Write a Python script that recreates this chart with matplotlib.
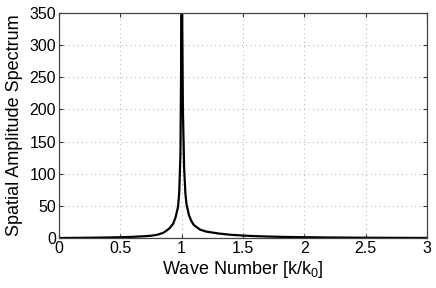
import matplotlib
matplotlib.use("Agg")
import matplotlib.pyplot as plt

plt.rcParams['font.family'] = ['Liberation Sans', 'DejaVu Sans']
plt.rcParams['mathtext.fontset'] = 'custom'
plt.rcParams['mathtext.rm'] = 'Liberation Sans'
plt.rcParams['mathtext.it'] = 'Liberation Sans'

# Wave number (k/k0) and spatial amplitude spectrum
wave_number = [0.0, 0.2, 0.4, 0.5, 0.6, 0.7, 0.75, 0.8, 0.85, 0.88, 0.9, 0.93,
               0.95, 0.97, 0.98, 0.99, 0.995, 1.0, 1.005, 1.01, 1.02, 1.03,
               1.04, 1.06, 1.08, 1.1, 1.15, 1.2, 1.3, 1.4, 1.5, 1.6, 1.7, 1.8,
               2.0, 2.2, 2.5, 2.8, 3.0]
amplitude = [0.0, 0.3, 0.8, 1.2, 1.8, 2.8, 3.5, 5.0, 8.0, 12.0, 15.0, 22.0,
             32.0, 48.0, 70.0, 130.0, 250.0, 600.0, 330.0, 200.0, 110.0, 70.0,
             52.0, 35.0, 26.0, 20.0, 13.0, 10.0, 7.0, 5.0, 3.8, 2.9, 2.3, 1.8,
             1.2, 0.8, 0.4, 0.2, 0.1]

x_ticks = [0, 0.5, 1, 1.5, 2, 2.5, 3]
x_tick_labels = ['0', '0.5', '1', '1.5', '2', '2.5', '3']
y_ticks = [0, 50, 100, 150, 200, 250, 300, 350]
y_tick_labels = ['0', '50', '100', '150', '200', '250', '300', '350']

fig = plt.figure(figsize=(4.36, 2.88), dpi=100)
ax = fig.add_axes([59/436, 1 - 238/288, 368/436, 225/288])

ax.plot(wave_number, amplitude, color='black', lw=1.6, clip_on=True)

ax.set_xlim(0, 3)
ax.set_ylim(0, 350)
ax.set_xticks(x_ticks)
ax.set_xticklabels(x_tick_labels)
ax.set_yticks(y_ticks)
ax.set_yticklabels(y_tick_labels)
ax.grid(True, linestyle=(0, (1, 3)), color='#b8b8b8', linewidth=0.8)
ax.tick_params(direction='in', length=3, labelsize=11.5, pad=2,
               top=True, right=True, color='#333333')
for s in ax.spines.values():
    s.set_color('#444444')
    s.set_linewidth(0.9)

ax.set_xlabel(r'Wave Number [k/k$_0$]', fontsize=13, labelpad=2)
ax.set_ylabel('Spatial Amplitude Spectrum', fontsize=13, labelpad=5)

fig.savefig('out.png', dpi=100)
